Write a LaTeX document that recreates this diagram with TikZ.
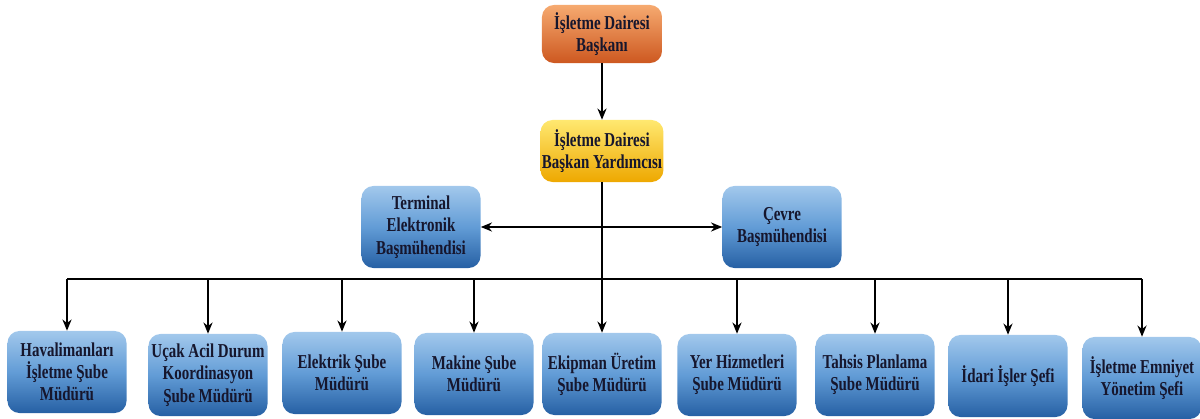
\documentclass[tikz,border=0pt]{standalone}
\usepackage{fontspec}
\setmainfont{Liberation Serif}[FakeStretch=0.76]
\usetikzlibrary{arrows.meta}

\definecolor{maviust}{RGB}{162,200,236}
\definecolor{maviorta}{RGB}{98,156,214}
\definecolor{mavialt}{RGB}{38,96,164}
\definecolor{turust}{RGB}{246,170,112}
\definecolor{turalt}{RGB}{205,88,32}
\definecolor{sariust}{RGB}{255,232,112}
\definecolor{sarialt}{RGB}{238,168,0}
\definecolor{yazi}{RGB}{22,22,45}

\begin{document}
\begin{tikzpicture}[x=0.025cm,y=-0.025cm,
    kutu/.style={rounded corners=0.3cm,align=center,text=yazi,inner sep=1pt,
      font=\bfseries\fontsize{14}{15.8}\selectfont},
    mavi/.style={kutu,top color=maviust,bottom color=mavialt,middle color=maviorta,
      minimum width=2.975cm,minimum height=2.05cm},
    turuncu/.style={kutu,top color=turust,bottom color=turalt,
      minimum width=3cm,minimum height=1.45cm},
    sari/.style={kutu,top color=sariust,bottom color=sarialt,
      minimum width=3cm,minimum height=1.55cm},
    ok/.style={-{Stealth[length=8pt,width=6.5pt]},line width=0.9pt}]
  \useasboundingbox (0,0) rectangle (1200,419);
  \draw
    (602,34) node[turuncu] (0){İşletme Dairesi\\Başkanı}
    (602,151) node[sari] (1){İşletme Dairesi\\Başkan Yardımcısı}
    (421,227) node[mavi] (2){Terminal\\Elektronik\\Başmühendisi}
    (782,227) node[mavi] (3){Çevre\\Başmühendisi};
  \draw
    (67,372) node[mavi] (4){Havalimanları\\İşletme Şube\\Müdürü}
    (208,375) node[mavi] (5){Uçak Acil Durum\\Koordinasyon\\Şube Müdürü}
    (342,373) node[mavi] (6){Elektrik Şube\\Müdürü}
    (474,374) node[mavi] (7){Makine Şube\\Müdürü}
    (602,374) node[mavi] (8){Ekipman Üretim\\Şube Müdürü}
    (737,375) node[mavi] (9){Yer Hizmetleri\\Şube Müdürü}
    (875,375) node[mavi] (10){Tahsis Planlama\\Şube Müdürü}
    (1008,376) node[mavi] (11){İdari İşler Şefi}
    (1142,378) node[mavi] (12){İşletme Emniyet\\Yönetim Şefi};
  \coordinate (bus) at (602,279);
  \begin{scope}[ok]
    \draw (0) -- (1);
    \draw[{Stealth[length=8pt,width=6.5pt]}-{Stealth[length=8pt,width=6.5pt]}] (2) -- (3);
    \draw[-] (1) -- (bus);
    \draw[-] (4 |- bus) -- (12 |- bus);
    \foreach \i in {4,...,12}
      \draw (\i |- bus) -- (\i);
  \end{scope}
\end{tikzpicture}
\end{document}
